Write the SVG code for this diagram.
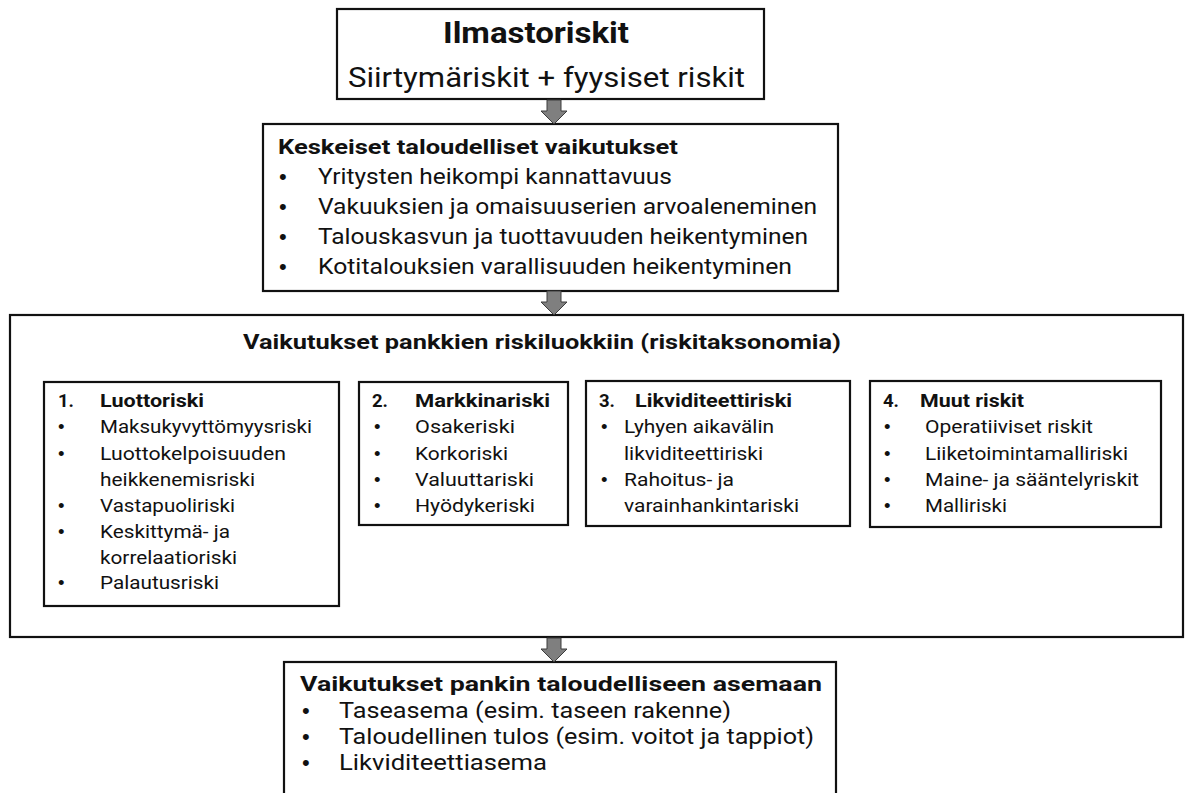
<svg xmlns="http://www.w3.org/2000/svg" width="1185" height="793" viewBox="0 0 1185 793">
<style>
text{font-family:Roboto,"Liberation Sans",sans-serif;fill:#111;}
text.bul{font-family:"Liberation Sans",Arial,sans-serif;}
.box{fill:#fff;stroke:#111;stroke-width:2.2;}
.b{font-weight:bold;}
.s18{font-size:18.5px;}
.s22{font-size:22px;}
.s21{font-size:21px;}
.arrow{fill:#7f7f7f;stroke:#3c3c3c;stroke-width:1;}
</style>
<defs>
<path id="arr" d="M-7,0 H7 V11 H13 L0,24 L-13,11 H-7 Z"/>
</defs>
<rect width="1185" height="793" fill="#fff"/>

<g id="node-ilmastoriskit">
<rect class="box" x="337" y="9" width="427" height="90"/>
<text class="b" x="443" y="43" font-size="29" textLength="186" lengthAdjust="spacingAndGlyphs">Ilmastoriskit</text>
<text x="348" y="87" font-size="27" textLength="397" lengthAdjust="spacingAndGlyphs">Siirtymäriskit + fyysiset riskit</text>
</g>

<g id="node-keskeiset">
<rect class="box" x="263" y="124" width="575" height="167"/>
<text class="b s21" x="278" y="154" textLength="400" lengthAdjust="spacingAndGlyphs">Keskeiset taloudelliset vaikutukset</text>
<g class="s22">
<text class="bul" x="279" y="184">•</text><text x="318" y="184" textLength="354" lengthAdjust="spacingAndGlyphs">Yritysten heikompi kannattavuus</text>
<text class="bul" x="279" y="214">•</text><text x="318" y="214" textLength="499" lengthAdjust="spacingAndGlyphs">Vakuuksien ja omaisuuserien arvoaleneminen</text>
<text class="bul" x="279" y="244">•</text><text x="318" y="244" textLength="490" lengthAdjust="spacingAndGlyphs">Talouskasvun ja tuottavuuden heikentyminen</text>
<text class="bul" x="279" y="274">•</text><text x="318" y="274" textLength="474" lengthAdjust="spacingAndGlyphs">Kotitalouksien varallisuuden heikentyminen</text>
</g>
</g>

<g id="node-riskiluokat">
<rect class="box" x="10" y="315" width="1173" height="322"/>
<text class="b s21" x="243" y="349" textLength="598" lengthAdjust="spacingAndGlyphs">Vaikutukset pankkien riskiluokkiin (riskitaksonomia)</text>
</g>

<g id="node-luottoriski" class="s18">
<rect class="box" x="44" y="382" width="295" height="224"/>
<text class="b" x="58" y="407">1.</text>
<text class="b" x="100" y="407" textLength="104" lengthAdjust="spacingAndGlyphs">Luottoriski</text>
<text class="bul" x="58" y="433">•</text><text x="100" y="433" textLength="212" lengthAdjust="spacingAndGlyphs">Maksukyvyttömyysriski</text>
<text class="bul" x="58" y="460">•</text><text x="100" y="460" textLength="186" lengthAdjust="spacingAndGlyphs">Luottokelpoisuuden</text>
<text x="100" y="486" textLength="155" lengthAdjust="spacingAndGlyphs">heikkenemisriski</text>
<text class="bul" x="58" y="512">•</text><text x="100" y="512" textLength="135" lengthAdjust="spacingAndGlyphs">Vastapuoliriski</text>
<text class="bul" x="58" y="538">•</text><text x="100" y="538" textLength="130" lengthAdjust="spacingAndGlyphs">Keskittymä- ja</text>
<text x="100" y="564" textLength="137" lengthAdjust="spacingAndGlyphs">korrelaatioriski</text>
<text class="bul" x="58" y="589">•</text><text x="100" y="589" textLength="119" lengthAdjust="spacingAndGlyphs">Palautusriski</text>
</g>

<g id="node-markkinariski" class="s18">
<rect class="box" x="359" y="382" width="209" height="143"/>
<text class="b" x="372" y="407">2.</text>
<text class="b" x="415" y="407" textLength="135" lengthAdjust="spacingAndGlyphs">Markkinariski</text>
<text class="bul" x="374" y="433">•</text><text x="415" y="433" textLength="100" lengthAdjust="spacingAndGlyphs">Osakeriski</text>
<text class="bul" x="374" y="460">•</text><text x="415" y="460" textLength="93" lengthAdjust="spacingAndGlyphs">Korkoriski</text>
<text class="bul" x="374" y="486">•</text><text x="415" y="486" textLength="119" lengthAdjust="spacingAndGlyphs">Valuuttariski</text>
<text class="bul" x="374" y="512">•</text><text x="415" y="512" textLength="120" lengthAdjust="spacingAndGlyphs">Hyödykeriski</text>
</g>

<g id="node-likviditeettiriski" class="s18">
<rect class="box" x="586" y="381" width="264" height="145"/>
<text class="b" x="599" y="407">3.</text>
<text class="b" x="635" y="407" textLength="157" lengthAdjust="spacingAndGlyphs">Likviditeettiriski</text>
<text class="bul" x="601" y="433">•</text><text x="624" y="433" textLength="150" lengthAdjust="spacingAndGlyphs">Lyhyen aikavälin</text>
<text x="624" y="460" textLength="139" lengthAdjust="spacingAndGlyphs">likviditeettiriski</text>
<text class="bul" x="601" y="486">•</text><text x="624" y="486" textLength="110" lengthAdjust="spacingAndGlyphs">Rahoitus- ja</text>
<text x="624" y="512" textLength="175" lengthAdjust="spacingAndGlyphs">varainhankintariski</text>
</g>

<g id="node-muut" class="s18">
<rect class="box" x="870" y="381" width="291" height="146"/>
<text class="b" x="883" y="407">4.</text>
<text class="b" x="920" y="407" textLength="104" lengthAdjust="spacingAndGlyphs">Muut riskit</text>
<text class="bul" x="884" y="433">•</text><text x="925" y="433" textLength="168" lengthAdjust="spacingAndGlyphs">Operatiiviset riskit</text>
<text class="bul" x="884" y="460">•</text><text x="925" y="460" textLength="203" lengthAdjust="spacingAndGlyphs">Liiketoimintamalliriski</text>
<text class="bul" x="884" y="486">•</text><text x="925" y="486" textLength="214" lengthAdjust="spacingAndGlyphs">Maine- ja sääntelyriskit</text>
<text class="bul" x="884" y="512">•</text><text x="925" y="512" textLength="82" lengthAdjust="spacingAndGlyphs">Malliriski</text>
</g>

<g id="node-taloudellinen-asema">
<rect class="box" x="284" y="662" width="552" height="150"/>
<text class="b s21" x="300" y="691" textLength="522" lengthAdjust="spacingAndGlyphs">Vaikutukset pankin taloudelliseen asemaan</text>
<g class="s22">
<text class="bul" x="302" y="718">•</text><text x="339" y="718" textLength="392" lengthAdjust="spacingAndGlyphs">Taseasema (esim. taseen rakenne)</text>
<text class="bul" x="302" y="744">•</text><text x="339" y="744" textLength="475" lengthAdjust="spacingAndGlyphs">Taloudellinen tulos (esim. voitot ja tappiot)</text>
<text class="bul" x="302" y="770">•</text><text x="339" y="770" textLength="208" lengthAdjust="spacingAndGlyphs">Likviditeettiasema</text>
</g>
</g>

<g id="connectors">
<use href="#arr" class="arrow" x="554" y="100"/>
<use href="#arr" class="arrow" x="554" y="291"/>
<use href="#arr" class="arrow" x="554" y="638"/>
</g>
</svg>
